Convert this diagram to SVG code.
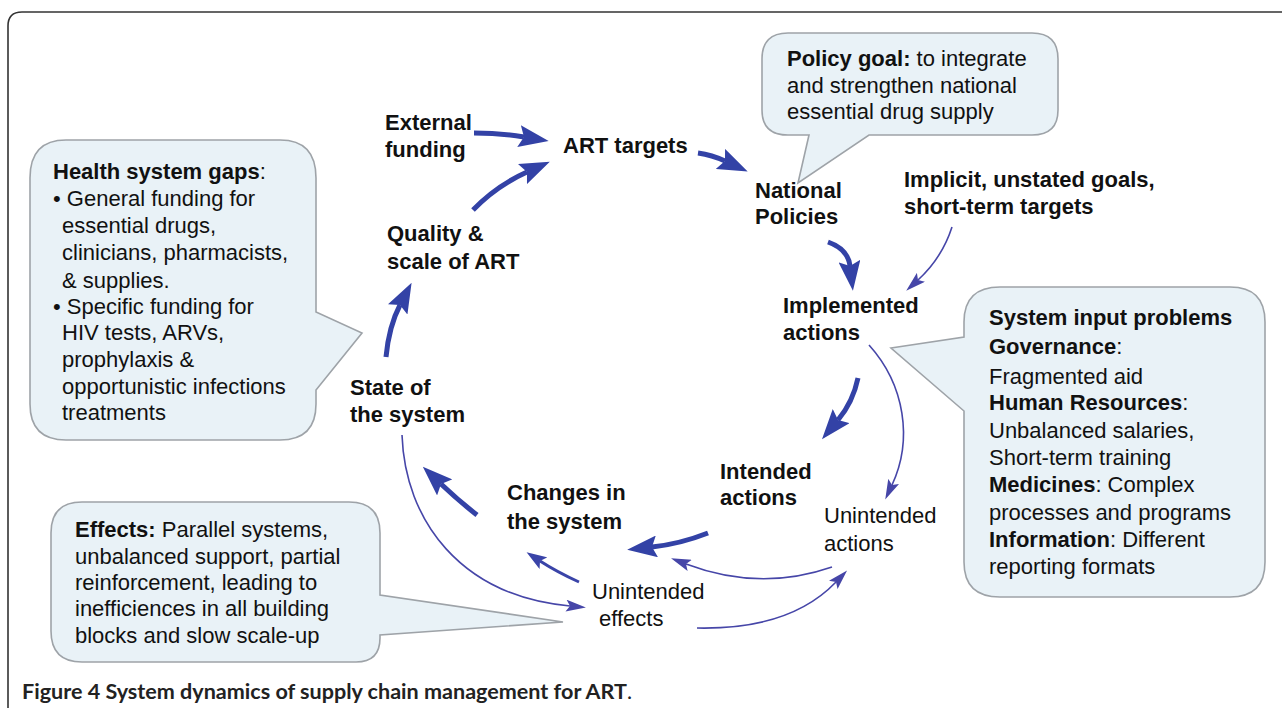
<svg xmlns="http://www.w3.org/2000/svg" width="1282" height="708" viewBox="0 0 1282 708">
<style>
.t{font-family:'Liberation Sans',Arial,sans-serif;font-size:22px;fill:#111}
.b{font-weight:bold}
.callout{fill:#e9f2f7;stroke:#9ea3a8;stroke-width:1.6}
.thick{fill:none;stroke:#3342a6;stroke-width:5;marker-end:url(#hThick)}
.thin{fill:none;stroke:#4646a8;stroke-width:1.6;marker-end:url(#hThin)}
.med{fill:none;stroke:#3a44a8;stroke-width:3;marker-end:url(#hMed)}
</style>
<defs>
<marker id="hThick" viewBox="0 0 30 22" refX="5" refY="11" markerWidth="30" markerHeight="22" orient="auto" markerUnits="userSpaceOnUse"><path d="M0,0 L30,11 L0,22 L5,11 Z" fill="#3342a6"/></marker>
<marker id="hThin" viewBox="0 0 20 12" refX="4" refY="6" markerWidth="20" markerHeight="12" orient="auto" markerUnits="userSpaceOnUse"><path d="M0,0 L20,6 L0,12 L4,6 Z" fill="#4646a8"/></marker>
<marker id="hMed" viewBox="0 0 20 14" refX="4" refY="7" markerWidth="20" markerHeight="14" orient="auto" markerUnits="userSpaceOnUse"><path d="M0,0 L20,7 L0,14 L4,7 Z" fill="#3a44a8"/></marker>
</defs>
<rect width="1282" height="708" fill="#fff"/>
<path d="M8,708 V26 Q8,12 22,12 H1282" fill="none" stroke="#333" stroke-width="1.6"/>

<g id="health-gaps">
<path class="callout" d="M66,140 H280 Q316,140 316,178 V312 L362,333 L316,390 V404 Q316,440 280,440 H66 Q30,440 30,404 V178 Q30,140 66,140 Z"/>
<text class="t" x="53" y="179"><tspan class="b">Health system gaps</tspan>:</text>
<text class="t" x="53" y="206">• General funding for</text>
<text class="t" x="62" y="233">essential drugs,</text>
<text class="t" x="62" y="260">clinicians, pharmacists,</text>
<text class="t" x="62" y="288">&amp; supplies.</text>
<text class="t" x="53" y="314">• Specific funding for</text>
<text class="t" x="62" y="340">HIV tests, ARVs,</text>
<text class="t" x="62" y="367">prophylaxis &amp;</text>
<text class="t" x="62" y="394">opportunistic infections</text>
<text class="t" x="62" y="420">treatments</text>
</g>

<g id="policy-goal">
<path class="callout" d="M788,33 H1032 Q1058,33 1058,59 V110 Q1058,135 1032,135 H869 L798,183 L809,135 H788 Q762,135 762,110 V59 Q762,33 788,33 Z"/>
<text class="t" x="787" y="66"><tspan class="b">Policy goal:</tspan> to integrate</text>
<text class="t" x="787" y="93">and strengthen national</text>
<text class="t" x="787" y="119">essential drug supply</text>
</g>

<g id="system-input">
<path class="callout" d="M1000,287 H1230 Q1265,287 1265,322 V562 Q1265,597 1230,597 H1000 Q964,597 964,562 V411 L891,348 L964,337 V322 Q964,287 1000,287 Z"/>
<text class="t b" x="989" y="325">System input problems</text>
<text class="t" x="989" y="354"><tspan class="b">Governance</tspan>:</text>
<text class="t" x="989" y="384">Fragmented aid</text>
<text class="t" x="989" y="410"><tspan class="b">Human Resources</tspan>:</text>
<text class="t" x="989" y="438">Unbalanced salaries,</text>
<text class="t" x="989" y="465">Short-term training</text>
<text class="t" x="989" y="492"><tspan class="b">Medicines</tspan>: Complex</text>
<text class="t" x="989" y="520">processes and programs</text>
<text class="t" x="989" y="547"><tspan class="b">Information</tspan>: Different</text>
<text class="t" x="989" y="574">reporting formats</text>
</g>

<g id="effects">
<path class="callout" d="M82,502 H349 Q380,502 380,533 V595 L563,622 L380,635 V638 Q380,662 356,662 H82 Q51,662 51,631 V533 Q51,502 82,502 Z"/>
<text class="t" x="75" y="537"><tspan class="b">Effects:</tspan> Parallel systems,</text>
<text class="t" x="75" y="564">unbalanced support, partial</text>
<text class="t" x="75" y="590">reinforcement, leading to</text>
<text class="t" x="75" y="616">inefficiences in all building</text>
<text class="t" x="75" y="643">blocks and slow scale-up</text>
</g>

<g id="external-funding"><text class="t b" x="385" y="130">External</text><text class="t b" x="385" y="157">funding</text></g>
<g id="art-targets"><text class="t b" x="563" y="153">ART targets</text></g>
<g id="national-policies"><text class="t b" x="755" y="198">National</text><text class="t b" x="755" y="224">Policies</text></g>
<g id="implicit-goals"><text class="t b" x="904" y="187">Implicit, unstated goals,</text><text class="t b" x="904" y="214">short-term targets</text></g>
<g id="implemented-actions"><text class="t b" x="783" y="313">Implemented</text><text class="t b" x="783" y="340">actions</text></g>
<g id="quality-scale"><text class="t b" x="387" y="241">Quality &amp;</text><text class="t b" x="387" y="269">scale of ART</text></g>
<g id="state-system"><text class="t b" x="350" y="395">State of</text><text class="t b" x="350" y="422">the system</text></g>
<g id="changes-system"><text class="t b" x="507" y="500">Changes in</text><text class="t b" x="507" y="529">the system</text></g>
<g id="intended-actions"><text class="t b" x="720" y="479">Intended</text><text class="t b" x="720" y="505">actions</text></g>
<g id="unintended-actions"><text class="t" x="824" y="523">Unintended</text><text class="t" x="824" y="551">actions</text></g>
<g id="unintended-effects"><text class="t" x="592" y="599">Unintended</text><text class="t" x="599" y="626">effects</text></g>

<g id="connectors">
<path class="thick" d="M474,133 Q500,133 524,137"/>
<path class="thick" d="M473,210 Q496,186 527,172"/>
<path class="thick" d="M698,153 Q712,155 725,161"/>
<path class="thick" d="M828,242 Q848,249 850,266"/>
<path class="thick" d="M858,378 Q853,402 838,420"/>
<path class="thick" d="M708,533 Q680,544 652,547"/>
<path class="thick" d="M477,515 Q459,501 441,484"/>
<path class="thick" d="M386,357 Q389,326 400,305"/>
<path class="thin" d="M952,227 Q942,258 918,280"/>
<path class="thin" d="M869,345 C905,385 913,440 892,485"/>
<path class="thin" d="M832,567 Q760,592 686,564"/>
<path class="thin" d="M697,628 Q790,630 836,582"/>
<path class="thin" d="M402,435 C405,520 460,596 570,606"/>
<path class="med" d="M579,582 Q557,572 540,561"/>
</g>

<text x="22" y="699" font-family="Lato,'Liberation Sans',sans-serif" font-weight="bold" font-size="21" fill="#222" textLength="610" lengthAdjust="spacingAndGlyphs">Figure 4 System dynamics of supply chain management for ART<tspan font-weight="normal">.</tspan></text>
</svg>
